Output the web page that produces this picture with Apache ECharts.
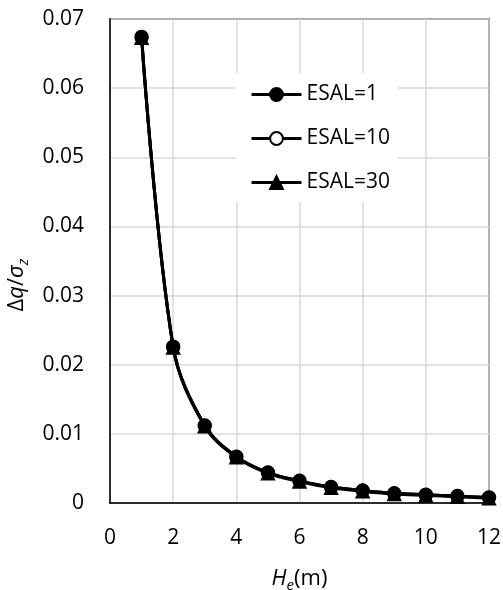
<!DOCTYPE html>
<html>
<head>
<meta charset="utf-8">
<script src="https://cdn.jsdelivr.net/npm/echarts@6/dist/echarts.min.js"></script>
<style>
html,body{margin:0;padding:0;background:#fff;}
#chart{width:503px;height:590px;}
</style>
</head>
<body>
<div id="chart"></div>
<script>
var heights = [1, 2, 3, 4, 5, 6, 7, 8, 9, 10, 11, 12];
var esal1  = [0.0674, 0.0226, 0.0112, 0.0067, 0.0044, 0.0032, 0.0023, 0.0018, 0.0014, 0.0012, 0.0010, 0.0008];
var esal10 = [0.0674, 0.0226, 0.0112, 0.0067, 0.0044, 0.0032, 0.0023, 0.0018, 0.0014, 0.0012, 0.0010, 0.0008];
var esal30 = [0.0673, 0.0225, 0.0111, 0.0066, 0.0043, 0.0031, 0.0022, 0.0017, 0.0013, 0.0011, 0.0009, 0.0007];
var seriesNames = ['ESAL=1', 'ESAL=10', 'ESAL=30'];

function pairs(xs, ys) { return xs.map(function (x, i) { return [x, ys[i]]; }); }

var FONT = '"Open Sans", sans-serif';
var chart = echarts.init(document.getElementById('chart'), null, {renderer: 'canvas'});

function lineSeries(name, data, symbol, size, fill, z) {
  return {
    name: name, type: 'line', data: pairs(heights, data),
    smooth: 0.35, symbol: symbol, symbolSize: size, showSymbol: true,
    lineStyle: {color: '#000', width: 3},
    itemStyle: {color: fill, borderColor: '#000', borderWidth: 1.5},
    z: z, animation: false
  };
}

chart.setOption({
  animation: false,
  backgroundColor: '#fff',
  grid: {left: 110, right: 14, top: 19, bottom: 87, containLabel: false, outerBoundsMode: 'none',
    show: true, borderColor: '#000', borderWidth: 1.5, backgroundColor: 'transparent'},
  legend: {
    data: seriesNames,
    orient: 'vertical', left: 236, top: 73,
    backgroundColor: '#fff',
    padding: [11, 8, 9, 14],
    itemWidth: 50, itemHeight: 16, itemGap: 23,
    lineStyle: {width: 3},
    textStyle: {fontFamily: FONT, fontSize: 21, color: '#000'}
  },
  xAxis: {
    type: 'value', min: 0, max: 12, interval: 2,
    axisLine: {show: true, onZero: false, lineStyle: {color: '#000', width: 1.5}},
    axisTick: {show: false},
    axisLabel: {fontFamily: FONT, fontSize: 21, color: '#000', margin: 25},
    splitLine: {show: true, lineStyle: {color: '#d9d9d9', width: 1.5}},
    name: '{i|H}{sub|e}{n|(m)}', nameLocation: 'middle', nameGap: 61,
    nameTextStyle: {
      fontFamily: FONT, fontSize: 22, color: '#000',
      rich: {
        i: {fontFamily: FONT, fontSize: 22, fontStyle: 'italic', color: '#000'},
        sub: {fontFamily: FONT, fontSize: 15, fontStyle: 'italic', color: '#000', padding: [14, 0, 0, 0]},
        n: {fontFamily: FONT, fontSize: 22, color: '#000'}
      }
    }
  },
  yAxis: {
    type: 'value', min: 0, max: 0.07, interval: 0.01,
    axisLine: {show: true, onZero: false, lineStyle: {color: '#000', width: 1.5}},
    axisTick: {show: false},
    axisLabel: {fontFamily: FONT, fontSize: 21, color: '#000', margin: 26,
      formatter: function (v) { return v === 0 ? '0' : v.toFixed(2); }},
    splitLine: {show: true, lineStyle: {color: '#d9d9d9', width: 1.5}},
    name: '{n|Δ}{i|q}{n|/}{i|σ}{sub|z}', nameLocation: 'middle', nameRotate: 90, nameGap: 73,
    nameTextStyle: {
      fontFamily: FONT, fontSize: 22, color: '#000', padding: [0, 48, 0, 0],
      rich: {
        i: {fontFamily: FONT, fontSize: 22, fontStyle: 'italic', color: '#000'},
        sub: {fontFamily: FONT, fontSize: 15, fontStyle: 'italic', color: '#000', padding: [14, 0, 0, 0]},
        n: {fontFamily: FONT, fontSize: 22, color: '#000'}
      }
    }
  },
  series: [
    lineSeries('ESAL=10', esal10, 'circle', 12, '#fff', 2),
    lineSeries('ESAL=30', esal30, 'triangle', 13, '#000', 3),
    lineSeries('ESAL=1', esal1, 'circle', 13, '#000', 4)
  ]
});
</script>
</body>
</html>
